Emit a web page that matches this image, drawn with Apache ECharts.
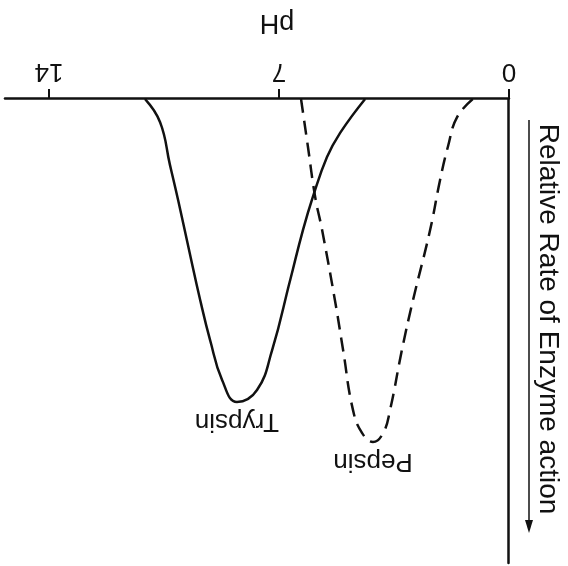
<!DOCTYPE html>
<html>
<head>
<meta charset="utf-8">
<script src="https://cdn.jsdelivr.net/npm/echarts@6/dist/echarts.min.js"></script>
<style>
  html, body { margin: 0; padding: 0; background: #fff; overflow: hidden; }
  /* the reference is printed upside down, so the whole chart is turned round */
  #enzyme_chart { width: 568px; height: 566px; transform: rotate(180deg); }
</style>
</head>
<body>
<div id="enzyme_chart"></div>
<script>
// pH values and relative rates
const trypsinPH   = [11.08, 10.62, 10.32, 10.07, 9.74, 9.40, 9.10, 8.73, 8.28, 7.67, 7.21, 6.66, 6.27, 5.97, 5.54, 5.14, 4.38];
const trypsinRate = [0, 5.0, 14.2, 21.8, 32.5, 43.3, 51.9, 60.6, 65.3, 62.7, 54.1, 39.0, 28.2, 21.1, 12.5, 7.3, 0];
const pepsinPH    = [6.33, 6.12, 5.90, 5.69, 5.30, 5.05, 4.75, 4.47, 4.14, 3.83, 3.62, 3.26, 2.92, 2.40, 2.10, 1.86, 1.58, 1.10];
const pepsinRate  = [0, 10.3, 21.1, 28.2, 43.3, 54.1, 67.0, 72.0, 73.9, 72.0, 67.0, 54.1, 43.3, 28.2, 17.5, 10.3, 3.9, 0];
const phTicks = [0, 7, 14];

const font = "'Liberation Sans', Arial, sans-serif";
const ink = "#111";

function zip(xs, ys) {
  return xs.map((x, i) => [x, ys[i]]);
}

// name written just past the lowest point of the curve
function nameMark(name) {
  return {
    symbol: "circle",
    symbolSize: 0,
    data: [{ type: "max", valueDim: "y" }],
    label: {
      show: true, position: "top", distance: 6, formatter: name,
      color: ink, fontFamily: font, fontSize: 26,
    },
  };
}

const myChart = echarts.init(document.getElementById("enzyme_chart"));

const option = {
  animation: false,
  grid: { left: 59, right: 5, top: 3, bottom: 99 },
  xAxis: {
    type: "value",
    min: 0,
    max: 15.34,
    axisLine: { lineStyle: { color: ink, width: 2.5 } },
    axisTick: { show: true, customValues: phTicks, length: 10, lineStyle: { color: ink, width: 2 } },
    axisLabel: { customValues: phTicks, margin: 15, color: ink, fontFamily: font, fontSize: 26 },
    splitLine: { show: false },
  },
  yAxis: {
    type: "value",
    min: 0,
    max: 100,
    axisLine: { show: true, lineStyle: { color: ink, width: 2.5 } },
    axisTick: { show: false },
    axisLabel: { show: false },
    splitLine: { show: false },
  },
  series: [
    {
      name: "Trypsin",
      type: "line",
      smooth: 0.45,
      symbol: "none",
      data: zip(trypsinPH, trypsinRate),
      lineStyle: { color: ink, width: 2.5 },
      markPoint: nameMark("Trypsin"),
    },
    {
      name: "Pepsin",
      type: "line",
      smooth: 0.45,
      symbol: "none",
      data: zip(pepsinPH, pepsinRate),
      lineStyle: { color: ink, width: 2.5, type: [14, 8] },
      markPoint: nameMark("Pepsin"),
    },
  ],
};

myChart.setOption(option);

// axis names and the arrow
const x7 = myChart.convertToPixel({ xAxisIndex: 0 }, 7);
myChart.setOption({
  graphic: [
    {
      type: "text",
      x: x7 + 2, y: 544,
      style: { text: "pH", fill: ink, font: "27px " + font, align: "center", verticalAlign: "middle" },
    },
    {
      type: "text",
      x: 20, y: 247,
      rotation: Math.PI / 2,
      style: { text: "Relative Rate of Enzyme action", fill: ink, font: "28px " + font, align: "center", verticalAlign: "middle" },
    },
    {
      type: "line",
      shape: { x1: 39, y1: 446, x2: 39, y2: 44 },
      style: { stroke: ink, lineWidth: 1.5 },
    },
    {
      type: "polygon",
      shape: { points: [[39, 33], [35, 46], [43, 46]] },
      style: { fill: ink },
    },
  ],
});
</script>
</body>
</html>
